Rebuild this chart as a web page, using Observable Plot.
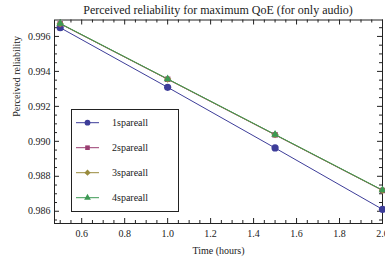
<!DOCTYPE html>
<html><head><meta charset="utf-8">
<script src="https://cdn.jsdelivr.net/npm/d3@7"></script>
<script src="https://cdn.jsdelivr.net/npm/@observablehq/plot@0.6"></script>
<style>
body{margin:0;background:#fff;}
#wrap{position:relative;width:385px;height:263px;font-family:"Liberation Serif",serif;}
#title{position:absolute;left:54px;width:328px;top:3px;text-align:center;font-size:12px;line-height:14px;color:#222;font-family:"Liberation Serif",serif;}
#legend{position:absolute;left:0;top:0;}
</style></head>
<body><div id="wrap"><div id="title">Perceived reliability for maximum QoE (for only audio)</div></div>
<script>
const hours = [0.5, 1.0, 1.5, 2.0];
const series = ["1spareall", "2spareall", "3spareall", "4spareall"];
const spare1 = [0.99650, 0.99309, 0.98962, 0.98611];
const spare2 = [0.99672, 0.99355, 0.99037, 0.98719];
const spare3 = [0.99673, 0.99356, 0.99038, 0.98720];
const spare4 = [0.99674, 0.99357, 0.99039, 0.98721];
const colors = ["#3d3d99", "#993d71", "#998b3d", "#3d9954"];
const symbols = ["circle", "square", "diamond2", "triangle"];
const xMajor = [0.6, 0.8, 1.0, 1.2, 1.4, 1.6, 1.8, 2.0];
const xMinor = [0.5, 0.55, 0.65, 0.7, 0.75, 0.85, 0.9, 0.95, 1.05, 1.1, 1.15, 1.25, 1.3, 1.35, 1.45, 1.5, 1.55, 1.65, 1.7, 1.75, 1.85, 1.9, 1.95];
const yMajor = [0.986, 0.988, 0.990, 0.992, 0.994, 0.996];
const yMinor = [0.9855, 0.9865, 0.987, 0.9875, 0.9885, 0.989, 0.9895, 0.9905, 0.991, 0.9915, 0.9925, 0.993, 0.9935, 0.9945, 0.995, 0.9955, 0.9965];

const allVals = [spare1, spare2, spare3, spare4];
const data = [];
series.forEach((s, i) => hours.forEach((h, j) => data.push({series: s, hours: h, value: allVals[i][j]})));

const W = 385, H = 263, mt = 19.5, mb = 40, ml = 54, mr = 3;
const fh = H - mt - mb, fw = W - ml - mr;
const maj = 5, mnr = 3;
const dotR = [3.6, 3.1, 3.3, 2.9];
const legR = [2.9, 2.6, 2.8, 2.5];
const serif = "Liberation Serif, serif";

const chart = Plot.plot({
  width: W, height: H,
  marginTop: mt, marginBottom: mb, marginLeft: ml, marginRight: mr,
  style: {fontFamily: serif, fontSize: "10px", color: "#222", background: "white"},
  x: {domain: [0.4734, 2.0]},
  y: {domain: [0.9853, 0.99694]},
  color: {domain: series, range: colors},
  symbol: {domain: series, range: symbols},
  marks: [
    Plot.axisX({ticks: xMajor, tickSize: 0, tickPadding: 6, tickFormat: d3.format(".1f"), label: null, fontSize: 10, fontFamily: serif}),
    Plot.axisY({ticks: yMajor, tickSize: 0, tickPadding: 4, tickFormat: d3.format(".3f"), label: null, fontSize: 10, fontFamily: serif}),
    Plot.tickX(xMajor, {x: d => d, insetTop: fh - maj, stroke: "#222"}),
    Plot.tickX(xMajor, {x: d => d, insetBottom: fh - maj, stroke: "#222"}),
    Plot.tickX(xMinor, {x: d => d, insetTop: fh - mnr, stroke: "#222"}),
    Plot.tickX(xMinor, {x: d => d, insetBottom: fh - mnr, stroke: "#222"}),
    Plot.tickY(yMajor, {y: d => d, insetRight: fw - maj, stroke: "#222"}),
    Plot.tickY(yMajor, {y: d => d, insetLeft: fw - maj, stroke: "#222"}),
    Plot.tickY(yMinor, {y: d => d, insetRight: fw - mnr, stroke: "#222"}),
    Plot.tickY(yMinor, {y: d => d, insetLeft: fw - mnr, stroke: "#222"}),
    Plot.frame({stroke: "#222"}),
    Plot.line(data, {x: "hours", y: "value", z: "series", stroke: "series", strokeWidth: 1}),
    ...series.map((s, i) => Plot.dot(data.filter(d => d.series === s), {x: "hours", y: "value", symbol: "series", fill: "series", r: dotR[i], stroke: "none"})),
    Plot.text(["Time (hours)"], {frameAnchor: "bottom", dy: 30, fontSize: 10, fill: "#222", fontFamily: serif}),
    Plot.text(["Perceived reliability"], {frameAnchor: "left", rotate: -90, dx: -38, dy: -5, fontSize: 10, fill: "#222", fontFamily: serif})
  ]
});
chart.style.position = "absolute";
chart.style.left = "0px";
chart.style.top = "0px";
const wrap = document.getElementById("wrap");
wrap.insertBefore(chart, wrap.firstChild);

const svg = d3.select(wrap).append("svg").attr("id", "legend").attr("width", W).attr("height", H);
const lg = svg.append("g");
lg.append("rect").attr("x", 71.5).attr("y", 109.5).attr("width", 107).attr("height", 102)
  .attr("fill", "white").attr("stroke", "#222").attr("stroke-width", 1);
const symMap = {circle: d3.symbolCircle, square: d3.symbolSquare, diamond2: d3.symbolDiamond2, triangle: d3.symbolTriangle};
series.forEach((s, i) => {
  const cy = 122.7 + i * 25;
  lg.append("line").attr("x1", 76).attr("x2", 99).attr("y1", cy).attr("y2", cy).attr("stroke", colors[i]).attr("stroke-width", 1);
  lg.append("path").attr("transform", `translate(87.5,${cy})`).attr("d", d3.symbol(symMap[symbols[i]], Math.PI * legR[i] * legR[i])()).attr("fill", colors[i]);
  lg.append("text").attr("x", 112).attr("y", cy).attr("dy", "0.35em").attr("font-size", 10).attr("fill", "#222")
    .attr("font-family", serif).text(s);
});
</script>
</body></html>
